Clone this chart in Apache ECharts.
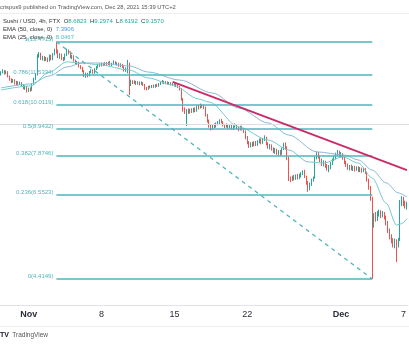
<!DOCTYPE html>
<html><head><meta charset="utf-8">
<script src="https://cdn.jsdelivr.net/npm/echarts@6/dist/echarts.min.js"></script>
<style>html,body{margin:0;padding:0;background:#fff}#c{width:409px;height:344px}</style>
</head><body><div id="c"></div>
<script>
// ---- data ----
const firstCandleUTC = [2021, 9, 29, 8]; // Oct 29 08:00, 4h candles
const candleHours = 4;
// [open, close, low, high]
const candles = [
[11.55,11.68,11.50,11.74],[11.68,11.75,11.62,11.85],[11.75,11.62,11.55,11.80],[11.62,11.70,11.58,11.78],
[11.70,11.45,11.40,11.74],[11.45,11.30,11.22,11.50],[11.30,11.18,11.10,11.35],[11.18,11.25,11.12,11.32],
[11.25,11.08,11.02,11.30],[11.08,11.15,11.00,11.22],[11.15,11.05,10.98,11.20],[11.05,11.12,11.00,11.18],
[11.12,10.95,10.90,11.15],[10.95,10.85,10.78,11.00],[10.85,10.92,10.75,10.98],[10.92,10.70,10.62,10.95],
[10.70,10.80,10.64,10.86],[10.80,10.72,10.66,10.88],[10.72,11.05,10.70,11.10],[11.05,11.30,11.00,11.38],
[11.30,11.55,11.25,11.62],[11.55,12.60,11.50,12.72],[12.60,12.75,12.50,12.85],[12.75,12.45,12.38,12.80],
[12.45,12.55,12.35,12.62],[12.55,12.38,12.30,12.60],[12.38,12.48,12.32,12.55],[12.48,12.30,12.25,12.52],
[12.30,12.62,12.28,12.70],[12.62,12.40,12.35,12.68],[12.40,12.70,12.36,12.78],[12.70,12.95,12.65,13.05],
[12.95,12.90,12.75,13.4715],[12.90,12.55,12.48,13.00],[12.55,12.70,12.45,12.78],[12.70,12.45,12.38,12.75],
[12.45,12.40,12.30,12.55],[12.40,12.68,12.35,12.75],[12.68,12.92,12.60,13.05],[12.92,12.80,12.70,13.00],
[12.80,12.55,12.48,12.88],[12.55,12.60,12.42,12.68],[12.60,12.35,12.28,12.65],[12.35,12.20,12.12,12.40],
[12.20,12.25,12.08,12.32],[12.25,12.02,11.95,12.28],[12.02,11.92,11.85,12.08],[11.92,11.75,11.68,11.98],
[11.75,11.50,11.42,11.80],[11.50,11.60,11.38,11.66],[11.60,11.48,11.40,11.65],[11.48,11.70,11.45,11.75],
[11.70,11.78,11.62,11.85],[11.78,11.65,11.60,11.84],[11.65,11.85,11.60,11.90],[11.85,11.95,11.80,12.02],
[11.95,12.10,11.90,12.15],[12.10,12.05,11.98,12.18],[12.05,12.15,12.00,12.22],[12.15,12.08,12.02,12.20],
[12.08,12.18,12.04,12.25],[12.18,12.12,12.06,12.26],[12.12,12.20,12.08,12.28],[12.20,12.10,12.05,12.32],
[12.10,12.16,12.02,12.22],[12.16,12.25,12.10,12.35],[12.25,12.12,12.08,12.30],[12.12,12.18,12.05,12.24],
[12.18,12.05,11.98,12.22],[12.05,12.12,11.96,12.18],[12.12,11.98,11.92,12.15],[11.98,11.80,11.72,12.02],
[11.80,11.90,11.70,11.95],[11.90,12.20,11.62,12.38],[12.20,11.05,10.49,12.22],[11.05,11.20,10.95,11.28],
[11.20,11.12,11.05,11.25],[11.12,11.18,11.05,11.24],[11.18,11.08,11.00,11.22],[11.08,11.14,11.02,11.20],
[11.14,11.05,10.98,11.18],[11.05,11.12,11.00,11.18],[11.12,11.02,10.95,11.15],[11.02,10.82,10.75,11.05],
[10.82,10.78,10.72,10.90],[10.78,10.92,10.75,10.96],[10.92,10.88,10.82,10.98],[10.88,10.95,10.84,11.00],
[10.95,10.90,10.85,11.02],[10.90,11.00,10.86,11.04],[11.00,10.94,10.90,11.06],[10.94,11.05,10.90,11.10],
[11.05,11.12,11.00,11.18],[11.12,11.18,11.08,11.26],[11.18,11.10,11.05,11.22],[11.10,11.16,11.04,11.20],
[11.16,11.08,11.02,11.19],[11.08,11.12,11.00,11.16],[11.12,11.04,10.98,11.14],[11.04,11.08,10.96,11.12],
[11.08,10.98,10.92,11.10],[10.98,11.02,10.90,11.06],[11.02,10.92,10.85,11.04],[10.92,10.80,10.72,10.95],
[10.80,10.30,10.22,10.84],[10.30,9.78,9.70,10.35],[9.78,9.70,9.60,9.90],[9.70,9.75,9.07,9.82],
[9.75,9.68,9.60,9.85],[9.68,9.78,9.62,9.84],[9.78,9.70,9.64,9.86],[9.70,9.80,9.66,9.88],
[9.80,9.74,9.68,9.90],[9.74,9.92,9.70,9.98],[9.92,9.88,9.80,10.02],[9.88,10.00,9.84,10.08],
[10.00,9.95,9.88,10.05],[9.95,9.90,9.82,10.02],[9.90,9.55,9.48,9.94],[9.55,9.30,9.22,9.60],
[9.30,9.08,9.00,9.35],[9.08,8.95,8.88,9.12],[8.95,9.10,8.90,9.15],[9.10,9.05,8.98,9.18],
[9.05,9.15,9.00,9.22],[9.15,9.20,9.10,9.28],[9.20,9.30,9.15,9.36],[9.30,9.24,9.18,9.38],
[9.24,9.10,9.05,9.28],[9.10,9.05,8.98,9.15],[9.05,9.12,9.00,9.18],[9.12,9.02,8.96,9.16],
[9.02,9.08,8.95,9.14],[9.08,8.98,8.92,9.12],[8.98,9.05,8.90,9.10],[9.05,9.10,9.00,9.18],
[9.10,9.00,8.94,9.14],[9.00,8.92,8.85,9.05],[8.92,9.02,8.88,9.08],[9.02,8.95,8.88,9.08],
[8.95,8.85,8.78,8.98],[8.85,8.60,8.52,8.88],[8.60,8.40,8.32,8.65],[8.40,8.25,8.18,8.45],
[8.25,8.35,8.20,8.40],[8.35,8.28,8.22,8.42],[8.28,8.38,8.24,8.44],[8.38,8.30,8.25,8.45],
[8.30,8.42,8.26,8.48],[8.42,8.48,8.36,8.55],[8.48,8.38,8.32,8.56],[8.38,8.50,8.34,8.58],
[8.50,8.58,8.45,8.68],[8.58,8.35,8.28,8.62],[8.35,8.22,8.15,8.40],[8.22,8.28,8.12,8.34],
[8.28,8.15,8.08,8.32],[8.15,8.05,7.98,8.20],[8.05,8.12,7.96,8.18],[8.12,7.98,7.92,8.15],
[7.98,8.05,7.90,8.10],[8.05,7.95,7.88,8.10],[7.95,8.15,7.92,8.20],[8.15,8.30,8.10,8.38],
[8.30,8.20,8.12,8.40],[8.20,7.80,7.72,8.24],[7.80,7.10,7.00,7.85],[7.10,7.05,6.96,7.15],
[7.05,7.12,7.00,7.18],[7.12,7.08,7.02,7.20],[7.08,7.15,7.04,7.22],[7.15,7.10,7.05,7.24],
[7.10,7.18,7.06,7.25],[7.18,7.25,7.12,7.30],[7.25,7.30,7.20,7.36],[7.30,7.15,7.10,7.38],
[7.15,6.95,6.88,7.18],[6.95,6.80,6.65,7.00],[6.80,6.88,6.70,6.95],[6.88,7.02,6.84,7.08],
[7.02,7.10,6.98,7.15],[7.10,7.80,7.08,7.85],[7.80,7.95,7.75,8.05],[7.95,7.85,7.78,8.02],
[7.85,7.72,7.65,7.90],[7.72,7.60,7.52,7.78],[7.60,7.65,7.50,7.72],[7.65,7.52,7.45,7.70],
[7.52,7.42,7.35,7.58],[7.42,7.48,7.30,7.55],[7.48,7.60,7.40,7.65],[7.60,7.72,7.55,7.78],
[7.72,7.80,7.68,7.88],[7.80,7.92,7.75,8.00],[7.92,8.02,7.88,8.10],[8.02,7.90,7.85,8.08],
[7.90,7.95,7.82,8.02],[7.95,7.80,7.74,7.98],[7.80,7.65,7.58,7.84],[7.65,7.55,7.48,7.70],
[7.55,7.45,7.38,7.60],[7.45,7.50,7.36,7.55],[7.50,7.42,7.36,7.56],[7.42,7.48,7.34,7.52],
[7.48,7.40,7.32,7.52],[7.40,7.45,7.35,7.50],[7.45,7.38,7.30,7.50],[7.38,7.42,7.30,7.48],
[7.42,7.35,7.28,7.46],[7.35,7.40,7.30,7.45],[7.40,7.30,7.24,7.44],[7.30,7.05,6.98,7.32],
[7.05,6.80,6.72,7.08],[6.80,6.45,6.38,6.84],[6.45,5.75,4.4149,6.50],[5.75,5.95,5.62,6.02],
[5.95,5.85,5.78,6.05],[5.85,6.00,5.80,6.08],[6.00,6.05,5.92,6.12],[6.05,5.95,5.88,6.10],
[5.95,6.02,5.90,6.08],[6.02,5.90,5.84,6.05],[5.90,5.75,5.68,5.95],[5.75,5.55,5.48,5.80],
[5.55,5.40,5.32,5.60],[5.40,5.30,5.22,5.45],[5.30,5.20,5.12,5.35],[5.20,5.28,5.10,5.34],
[5.28,5.18,4.78,5.32],[5.18,5.30,5.12,5.36],[5.30,6.30,5.28,6.40],[6.30,6.45,6.22,6.52],
[6.45,6.30,6.22,6.50],[6.30,6.22,6.15,6.38],[6.22,6.28,6.12,6.35]
];
// EMA values: [candle index, value]
const ema50 = [[0,10.85],[17,11.05],[28,11.48],[38,11.97],[47,12.20],[57,12.20],[74,12.03],[85,11.69],
  [103,11.26],[122,10.59],[137,9.87],[154,9.20],[166,8.69],[182,8.03],[198,7.91],[206,7.73],[214,7.37],
  [222,6.94],[229,6.62],[234,6.49]];
const ema25 = [[0,10.74],[17,10.95],[28,11.69],[38,12.26],[47,12.20],[57,12.09],[74,11.80],[85,11.37],
  [99,11.00],[114,10.30],[120,10.15],[137,9.03],[154,8.49],[166,8.10],[177,7.66],[186,7.62],[197,7.84],
  [206,7.62],[214,7.10],[222,6.31],[228,5.69],[231,5.73],[234,5.87]];
const fibLevels = ['0','0.236','0.382','0.5','0.618','0.786','1'];
const fibPrices = [4.4149, 6.5523, 7.8746, 8.9432, 10.0119, 11.5334, 13.4715];
const fibFrom = '2021-11-03 16:00', fibTo = '2021-12-04 00:00';
const trendFrom = ['2021-11-14 20:00', 11.16], trendTo = ['2021-12-07 08:00', 7.37];
const lastClose = 9.1570;
const tickDates = ['2021-11-01 00:00','2021-11-08 00:00','2021-11-15 00:00','2021-11-22 00:00','2021-12-01 00:00','2021-12-07 00:00'];
const tickTexts = ['Nov','8','15','22','Dec','7'];
const headerText = 'crispus9 published on TradingView.com, Dec 28, 2021 15:39 UTC+2';

// ---- build ----
const pad = n => String(n).padStart(2,'0');
const categories = [];
const t0 = Date.UTC(firstCandleUTC[0], firstCandleUTC[1], firstCandleUTC[2], firstCandleUTC[3]);
for (let i = 0; i < candles.length; i++) {
  const d = new Date(t0 + i * candleHours * 3600e3);
  categories.push(d.getUTCFullYear()+'-'+pad(d.getUTCMonth()+1)+'-'+pad(d.getUTCDate())+' '+pad(d.getUTCHours())+':00');
}
const FF = '"Liberation Sans", Arial, sans-serif';
const teal = '#4fb6bb';
const fibLines = fibPrices.map((p, k) => [
  {coord:[fibFrom, p], label:{show:true, position:'start', distance:3, formatter: fibLevels[k]+'('+p.toFixed(4)+')',
    color:teal, fontSize:6, fontFamily:FF, verticalAlign:'bottom'}},
  {coord:[fibTo, p]}
]);
const chart = echarts.init(document.getElementById('c'), null, {renderer:'canvas'});
chart.setOption({
  animation:false,
  grid:{left:0,right:0,top:14,bottom:39},
  xAxis:{type:'category', data:categories, boundaryGap:true,
    axisLine:{lineStyle:{color:'#e0e3eb'}}, axisTick:{show:false}, splitLine:{show:false},
    axisLabel:{interval:(i,v)=>tickDates.includes(v), margin:5,
      formatter:v=>{const t=tickTexts[tickDates.indexOf(v)]; return /^[A-Z]/.test(t)?'{b|'+t+'}':'{n|'+t+'}';},
      rich:{b:{fontWeight:'bold',fontSize:9,color:'#2a2e39',fontFamily:FF}, n:{fontSize:9,color:'#2a2e39',fontFamily:FF}}}},
  yAxis:{type:'log', min:3.9065, max:15.363, show:false, splitLine:{show:false}},
  series:[
    {type:'candlestick', data:candles, barWidth:1.2,
      itemStyle:{color:'#26a69a', color0:'#ef5350', borderColor:'#26a69a', borderColor0:'#ef5350', borderWidth:1},
      markLine:{silent:true, symbol:['none','none'], animation:false, label:{show:false},
        lineStyle:{color:teal, width:1.5, type:'solid'},
        data:[
          [{yAxis:lastClose, x:0, lineStyle:{color:'#dcdee4', width:1}}, {yAxis:lastClose, x:409}],
          ...fibLines,
          [{coord:[fibFrom, fibPrices[6]], lineStyle:{color:teal, width:1.3, type:[4,4]}}, {coord:[fibTo, fibPrices[0]]}],
          [{coord:trendFrom, lineStyle:{color:'#cc2a66', width:1.8, type:'solid'}}, {coord:trendTo}]
        ]}},
    {type:'line', data:ema50, symbol:'none', smooth:0.3, smoothMonotone:'x', lineStyle:{color:'#8db7d6', width:1}, z:3},
    {type:'line', data:ema25, symbol:'none', smooth:0.3, smoothMonotone:'x', lineStyle:{color:'#74c9cc', width:1}, z:3}
  ],
  graphic:[
    {type:'text', x:0, y:7, style:{text:headerText, fontSize:5.8, fontFamily:FF, fill:'#555', verticalAlign:'middle'}},
    {type:'line', shape:{x1:0,y1:13.5,x2:409,y2:13.5}, style:{stroke:'#eceef2', lineWidth:1}},
    {type:'text', x:3, y:21, style:{text:'{d|Sushi / USD, 4h, FTX  O}{v|8.6823}{d|  H}{v|9.2974}{d|  L}{v|8.6192}{d|  C}{v|9.1570}',
      verticalAlign:'middle', rich:{d:{fontSize:6,fontFamily:FF,fill:'#333'}, v:{fontSize:6,fontFamily:FF,fill:'#26a69a'}}}},
    {type:'text', x:3, y:29, style:{text:'{d|EMA (50, close, 0)  }{v|7.3906}',
      verticalAlign:'middle', rich:{d:{fontSize:6,fontFamily:FF,fill:'#333'}, v:{fontSize:6,fontFamily:FF,fill:'#4a9be0'}}}},
    {type:'text', x:3, y:37, style:{text:'{d|EMA (25, close, 0)  }{v|8.0467}',
      verticalAlign:'middle', rich:{d:{fontSize:6,fontFamily:FF,fill:'#333'}, v:{fontSize:6,fontFamily:FF,fill:'#4fc1c4'}}}},
    {type:'line', shape:{x1:0,y1:326.5,x2:409,y2:326.5}, style:{stroke:'#eceef2', lineWidth:1}},
    {type:'text', x:0, y:335, style:{text:'{l|TV} {d|TradingView}', verticalAlign:'middle',
      rich:{l:{fontSize:7,fontWeight:'bold',fontFamily:FF,fill:'#131722'}, d:{fontSize:6.5,fontFamily:FF,fill:'#555'}}}}
  ]
});
</script></body></html>
